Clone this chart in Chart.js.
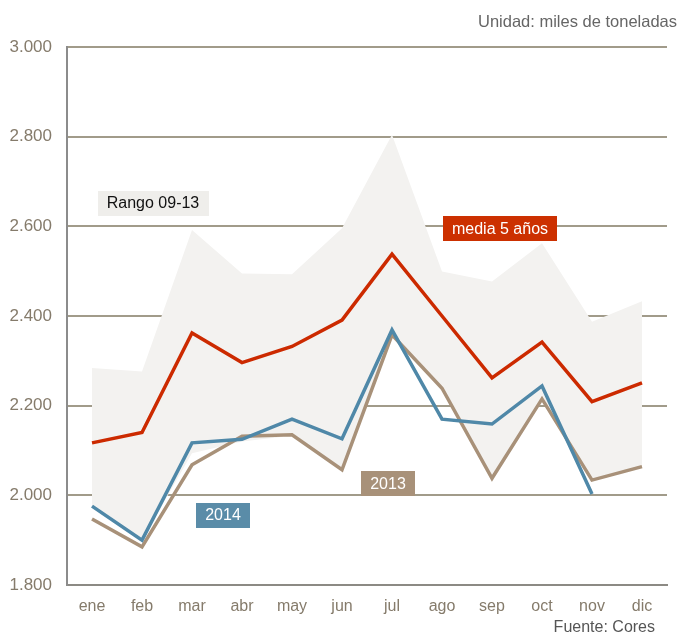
<!DOCTYPE html>
<html lang="es">
  <head>
    <meta charset="UTF-8" />
    <title>Consumo mensual</title>
    <script src="https://cdn.jsdelivr.net/npm/chart.js@4"></script>
    <style>
      html, body { margin: 0; padding: 0; background: #fff; }
      #wrap { width: 678px; height: 634px; }
    </style>
  </head>
  <body>
    <div id="wrap"><canvas id="chart" width="678" height="634"></canvas></div>
    <script>
      var months = ["ene", "feb", "mar", "abr", "may", "jun", "jul", "ago", "sep", "oct", "nov", "dic"];

      // miles de toneladas
      var rangeLow = [1976, 1900, 2094, 2120, 2133, 2057, 2356, 2237, 2030, 2210, 2032, 2063];
      var rangeHigh = [2284, 2276, 2592, 2495, 2493, 2596, 2804, 2499, 2477, 2562, 2387, 2433];
      var media5 = [2117, 2140, 2362, 2296, 2332, 2391, 2538, 2400, 2262, 2342, 2209, 2251];
      var y2014 = [1976, 1900, 2117, 2125, 2170, 2126, 2369, 2170, 2159, 2244, 2003, null];
      var y2013 = [1947, 1885, 2068, 2132, 2135, 2057, 2358, 2239, 2038, 2215, 2034, 2064];

      var yTicks = [1800, 2000, 2200, 2400, 2600, 2800, 3000];

      // tag boxes: text, category position, value
      var tags = [
        { text: "Rango 09-13", at: 1.22, value: 2652, bg: "#efeeeb", fg: "#111111" },
        { text: "media 5 años", at: 8.16, value: 2596, bg: "#cc3000", fg: "#ffffff" },
        { text: "2013", at: 5.92, value: 2027, bg: "#a89179", fg: "#ffffff" },
        { text: "2014", at: 2.62, value: 1956, bg: "#5a8ca8", fg: "#ffffff" },
      ];

      var font = "'Liberation Sans', Arial, sans-serif";
      var tickColor = "#857b6b";

      function fmt(v) {
        return (v / 1000).toFixed(3);
      }

      var tagPlugin = {
        id: "tags",
        afterDatasetsDraw(chart) {
          var ctx = chart.ctx;
          var xs = chart.scales.x;
          var ys = chart.scales.y;
          ctx.save();
          ctx.font = "16px " + font;
          ctx.textBaseline = "middle";
          ctx.textAlign = "center";
          tags.forEach(function (t) {
            var cx = xs.getPixelForValue(0) + t.at * (xs.getPixelForValue(1) - xs.getPixelForValue(0));
            var cy = ys.getPixelForValue(t.value);
            var w = ctx.measureText(t.text).width + 18;
            var h = 25;
            ctx.fillStyle = t.bg;
            ctx.fillRect(Math.round(cx - w / 2), Math.round(cy - h / 2), Math.round(w), h);
            ctx.fillStyle = t.fg;
            ctx.fillText(t.text, cx, cy + 1);
          });
          ctx.restore();
        },
        afterDraw(chart) {
          var ctx = chart.ctx;
          ctx.save();
          ctx.font = "16.5px " + font;
          ctx.fillStyle = "#666666";
          ctx.textAlign = "right";
          ctx.textBaseline = "middle";
          ctx.fillText("Unidad: miles de toneladas", 677, 22);
          ctx.font = "16px " + font;
          ctx.fillStyle = "#555555";
          ctx.fillText("Fuente: Cores", 655, 628);
          ctx.restore();
        },
      };

      new Chart(document.getElementById("chart"), {
        type: "line",
        data: {
          labels: months,
          datasets: [
            { label: "min", data: rangeLow, borderWidth: 0, pointRadius: 0, fill: false, order: 10 },
            { label: "Rango 09-13", data: rangeHigh, borderWidth: 0, pointRadius: 0, fill: "-1", backgroundColor: "#f3f2f0", order: 9 },
            { label: "2013", data: y2013, borderColor: "#a89179", borderWidth: 3.5, pointRadius: 0, order: 3 },
            { label: "2014", data: y2014, borderColor: "#4f88a8", borderWidth: 3.5, pointRadius: 0, order: 2 },
            { label: "media 5 años", data: media5, borderColor: "#cc2a00", borderWidth: 3.5, pointRadius: 0, order: 1 },
          ],
        },
        options: {
          responsive: false,
          animation: false,
          layout: { padding: { top: 47, right: 11, left: 0, bottom: 0 } },
          plugins: { legend: { display: false }, tooltip: { enabled: false } },
          elements: { line: { tension: 0, borderJoinStyle: "miter", borderCapStyle: "butt" } },
          scales: {
            x: {
              offset: true,
              grid: { display: false, drawTicks: false },
              border: { display: true, color: "#8c8a84", width: 2 },
              ticks: { color: tickColor, font: { family: font, size: 16 }, padding: 12, maxRotation: 0 },
              afterFit: function (axis) { axis.height = 49; },
            },
            y: {
              min: 1800,
              max: 3000,
              afterBuildTicks: function (axis) {
                axis.ticks = yTicks.map(function (v) { return { value: v }; });
              },
              grid: {
                drawTicks: false,
                lineWidth: 2,
                color: function (c) { return c.tick && c.tick.value === 1800 ? "rgba(0,0,0,0)" : "#a19b8a"; },
              },
              border: { display: true, color: "#8c8c8c", width: 2 },
              ticks: {
                color: tickColor,
                font: { family: font, size: 17 },
                padding: 15,
                callback: function (v) { return fmt(v); },
              },
              afterFit: function (axis) { axis.width = 67; },
            },
          },
        },
        plugins: [tagPlugin],
      });
    </script>
  </body>
</html>
